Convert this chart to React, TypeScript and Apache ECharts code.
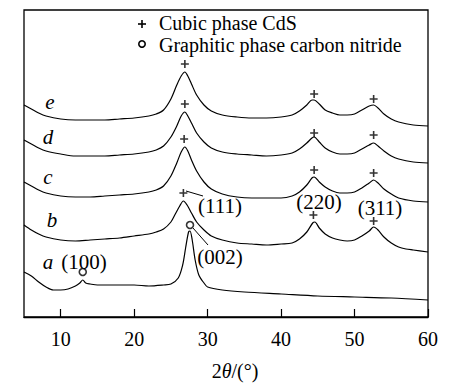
import React, { useEffect, useRef } from "react";
import * as echarts from "echarts";

// 2θ positions (degrees) and intensities (arbitrary, offset-stacked) for each pattern
const xA = [5, 6, 7, 8, 9, 10, 11, 12, 12.6, 13.0, 13.4, 14, 15, 17, 20, 22, 24, 25, 26, 26.6, 27.0, 27.4, 27.6, 27.9, 28.3, 28.8, 29.5, 30, 32, 35, 40, 45, 50, 55, 60];
const yA = [45, 41, 35, 30, 27, 27, 28, 31, 34, 37, 34, 33, 32, 32, 32, 31, 32, 33, 39, 52, 69, 85, 86, 77, 57, 42, 34, 30, 27, 25, 23, 21, 20, 19, 17];

const xB = [5, 6, 7, 8, 10, 12, 14, 16, 18, 20, 22, 23, 24, 25, 25.6, 26.2, 26.7, 27.2, 27.8, 28.5, 29.5, 30.5, 32, 34, 36, 38, 40, 41.5, 42.5, 43.5, 44.3, 44.6, 45.2, 46, 47, 48, 49, 50, 51, 52, 52.6, 53.2, 54, 55, 56, 57, 58, 60];
const yB = [92, 87, 83, 80, 77, 76, 77, 78, 79, 81, 83, 85, 88, 95, 103, 111, 116, 112, 104, 95, 87, 81, 77, 74, 73, 72, 73, 74, 78, 85, 94, 95, 89, 83, 79, 77, 76, 77, 81, 86, 90, 87, 80, 74, 70, 68, 67, 65];

const xCDE = [5, 6, 7, 8, 10, 12, 14, 16, 18, 20, 22, 23, 24, 25, 25.8, 26.4, 26.9, 27.3, 27.8, 28.5, 29.5, 30.5, 32, 34, 36, 38, 40, 41.5, 42.5, 43.5, 44.2, 44.5, 45.2, 46, 47, 48, 49, 50, 51, 52, 52.6, 53.2, 54, 55, 56, 58, 60];
const yC = [135, 131, 127, 124, 121, 120, 120, 121, 122, 123, 125, 127, 131, 141, 154, 165, 170, 166, 157, 146, 135, 128, 123, 120, 119, 119, 119, 121, 125, 132, 139, 140, 135, 130, 126, 124, 124, 125, 129, 134, 137, 134, 128, 123, 119, 116, 115];
const yD = [177, 173, 169, 166, 163, 161, 161, 161, 162, 163, 165, 167, 171, 180, 191, 201, 205, 201, 194, 184, 175, 169, 165, 163, 162, 161, 162, 164, 168, 174, 179, 180, 175, 169, 165, 163, 163, 164, 168, 172, 174, 171, 166, 161, 158, 155, 154];
const yE = [212, 208, 204, 201, 198, 197, 197, 197, 198, 199, 201, 203, 207, 218, 232, 241, 245, 241, 233, 222, 212, 206, 202, 200, 199, 199, 200, 202, 206, 212, 217, 217, 213, 207, 204, 202, 202, 203, 207, 211, 212, 209, 203, 198, 195, 192, 191];

// Cubic CdS reflection markers (+) and g-C3N4 markers (o)
const cdsX = [26.9, 44.5, 52.6, 26.9, 44.5, 52.6, 26.8, 44.5, 52.6, 26.7, 44.4, 52.6];
const cdsY = [253, 223, 218, 213, 184, 182, 178, 147, 144, 124, 102, 96];
const cnX = [13.0, 27.6];
const cnY = [45, 92];

const xTicks = [10, 20, 30, 40, 50, 60];
const curveNames = ["a", "b", "c", "d", "e"];
const legendTexts = ["Cubic phase CdS", "Graphitic phase carbon nitride"];

const FONT = "'Liberation Serif', 'Times New Roman', 'DejaVu Serif', serif";
const PLUS = "path://M3.2,0h1.6v3.2h3.2v1.6h-3.2v3.2h-1.6v-3.2h-3.2v-1.6h3.2z";

function pairs(xs: number[], ys: number[]) {
  return xs.map((x, i) => [x, ys[i]]);
}

export default function App() {
  const ref = useRef<HTMLDivElement>(null);
  useEffect(() => {
    document.body.style.margin = "0";
    if (!ref.current) return;
    const chart = echarts.init(ref.current, undefined, { renderer: "svg" });
    const lineSeries = [
      pairs(xA, yA),
      pairs(xB, yB),
      pairs(xCDE, yC),
      pairs(xCDE, yD),
      pairs(xCDE, yE),
    ].map((d, i) => ({
      name: curveNames[i],
      type: "line",
      data: d,
      showSymbol: false,
      smooth: 0.3,
      lineStyle: { color: "#000", width: 1.2 },
      z: 2,
    }));
    const labelStyle = { fontFamily: FONT, fontSize: 21, fill: "#000" };
    const legendStyle = { ...labelStyle, fontSize: 20 };
    const italicStyle = { ...labelStyle, fontStyle: "italic", fontSize: 21 };
    chart.setOption({
      animation: false,
      grid: {
        left: 24,
        right: 47,
        top: 10,
        bottom: 70,
        show: true,
        borderColor: "#000",
        borderWidth: 1.3,
      },
      xAxis: {
        type: "value",
        min: 5,
        max: 60,
        name: "{n|2}{i|θ}{n|/(°)}",
        nameLocation: "middle",
        nameGap: 44,
        nameTextStyle: {
          padding: [0, 0, 0, 18],
          rich: {
            n: { fontFamily: FONT, fontSize: 20, color: "#000" },
            i: { fontFamily: FONT, fontSize: 20, color: "#000", fontStyle: "italic" },
          },
        },
        axisLine: { show: true, lineStyle: { color: "#000", width: 1.3 } },
        axisTick: { show: true, inside: true, length: 8, customValues: xTicks, lineStyle: { color: "#000", width: 1.2 } },
        axisLabel: { customValues: xTicks, margin: 12, fontFamily: FONT, fontSize: 20, color: "#000" },
        splitLine: { show: false },
      },
      yAxis: {
        type: "value",
        min: 0,
        max: 307,
        show: false,
      },
      series: [
        ...lineSeries,
        {
          name: "CdS",
          type: "scatter",
          data: pairs(cdsX, cdsY),
          symbol: PLUS,
          symbolSize: 8,
          itemStyle: { color: "#000" },
          z: 3,
        },
        {
          name: "g-C3N4",
          type: "scatter",
          data: pairs(cnX, cnY),
          symbol: "circle",
          symbolSize: 7,
          itemStyle: { color: "#fff", borderColor: "#000", borderWidth: 1.6 },
          z: 3,
        },
      ],
      graphic: [
        // legend
        { type: "rect", shape: { x: 138, y: 23.2, width: 8, height: 1.6 }, style: { fill: "#000" } },
        { type: "rect", shape: { x: 141.2, y: 20, width: 1.6, height: 8 }, style: { fill: "#000" } },
        { type: "circle", shape: { cx: 142, cy: 44, r: 3.2 }, style: { fill: "#fff", stroke: "#000", lineWidth: 1.6 } },
        { type: "text", x: 159, y: 23, style: { ...legendStyle, text: legendTexts[0], verticalAlign: "middle" } },
        { type: "text", x: 159, y: 44.5, style: { ...legendStyle, text: legendTexts[1], verticalAlign: "middle" } },
        // curve labels
        { type: "text", x: 50, y: 102, style: { ...italicStyle, text: "e", align: "center", verticalAlign: "middle" } },
        { type: "text", x: 48, y: 137, style: { ...italicStyle, text: "d", align: "center", verticalAlign: "middle" } },
        { type: "text", x: 48, y: 177, style: { ...italicStyle, text: "c", align: "center", verticalAlign: "middle" } },
        { type: "text", x: 52, y: 220, style: { ...italicStyle, text: "b", align: "center", verticalAlign: "middle" } },
        { type: "text", x: 48, y: 262, style: { ...italicStyle, text: "a", align: "center", verticalAlign: "middle" } },
        // reflection labels
        { type: "text", x: 84, y: 262, style: { ...labelStyle, text: "(100)", align: "center", verticalAlign: "middle" } },
        { type: "text", x: 220, y: 206, style: { ...labelStyle, text: "(111)", align: "center", verticalAlign: "middle" } },
        { type: "text", x: 220, y: 257, style: { ...labelStyle, text: "(002)", align: "center", verticalAlign: "middle" } },
        { type: "text", x: 319, y: 202, style: { ...labelStyle, text: "(220)", align: "center", verticalAlign: "middle" } },
        { type: "text", x: 380, y: 208, style: { ...labelStyle, text: "(311)", align: "center", verticalAlign: "middle" } },
        // leader lines
        { type: "line", shape: { x1: 186, y1: 191, x2: 203, y2: 196 }, style: { stroke: "#000", lineWidth: 1 } },
        { type: "line", shape: { x1: 193, y1: 228, x2: 208, y2: 245 }, style: { stroke: "#000", lineWidth: 1 } },
      ],
    });
    return () => chart.dispose();
  }, []);
  return <div ref={ref} style={{ width: 475, height: 387 }} />;
}
